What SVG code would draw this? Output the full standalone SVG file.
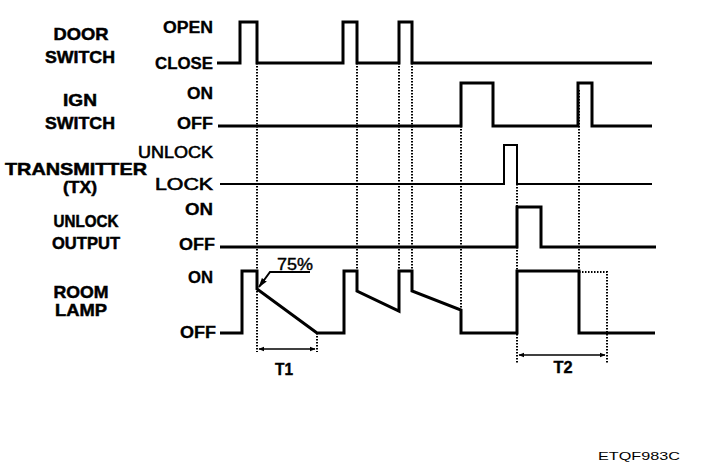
<svg xmlns="http://www.w3.org/2000/svg" width="704" height="476" viewBox="0 0 704 476">
<style>
.lbl{font-family:"Liberation Sans",Arial,sans-serif;font-weight:bold;font-size:17px;fill:#000;stroke:#000;stroke-width:0.5;text-anchor:middle}
.st{font-family:"Liberation Sans",Arial,sans-serif;font-weight:bold;font-size:16px;fill:#000;stroke:#000;stroke-width:0.3;text-anchor:end}
.tl{font-family:"Liberation Sans",Arial,sans-serif;font-weight:bold;font-size:16px;fill:#000;stroke:#000;stroke-width:0.4;text-anchor:middle}
.sig{fill:none;stroke:#000;stroke-width:3;stroke-linejoin:miter}
.dot{fill:none;stroke:#000;stroke-width:2;stroke-dasharray:1.5,1.5}
.thin{fill:none;stroke:#000;stroke-width:1.6}
</style>
<defs>
<marker id="ah" viewBox="0 0 10 10" refX="9" refY="5" markerWidth="6" markerHeight="6" orient="auto-start-reverse" markerUnits="userSpaceOnUse">
<path d="M0,1 L10,5 L0,9 z" fill="#000"/>
</marker>
<marker id="ab" viewBox="0 0 10 10" refX="9" refY="5" markerWidth="10" markerHeight="10" orient="auto-start-reverse" markerUnits="userSpaceOnUse">
<path d="M0,2 L10,5 L0,8 z" fill="#000"/>
</marker>
</defs>
<rect width="704" height="476" fill="#fff"/>

<g id="door-switch">
<text class="lbl" x="81" y="40" textLength="55" lengthAdjust="spacingAndGlyphs">DOOR</text>
<text class="lbl" x="80" y="63" textLength="70" lengthAdjust="spacingAndGlyphs">SWITCH</text>
<text class="st" x="213" y="33" textLength="50" lengthAdjust="spacingAndGlyphs">OPEN</text>
<text class="st" x="213" y="69" textLength="58" lengthAdjust="spacingAndGlyphs">CLOSE</text>
<path class="sig" d="M217,63 H240 V22 H257 V63 H343 V22 H357 V63 H399 V22 H412 V63 H652"/>
</g>

<g id="ign-switch">
<text class="lbl" x="80" y="106" textLength="34" lengthAdjust="spacingAndGlyphs">IGN</text>
<text class="lbl" x="80" y="129" textLength="70" lengthAdjust="spacingAndGlyphs">SWITCH</text>
<text class="st" x="213" y="99" textLength="26" lengthAdjust="spacingAndGlyphs">ON</text>
<text class="st" x="213" y="129" textLength="36" lengthAdjust="spacingAndGlyphs">OFF</text>
<path class="sig" d="M218,126 H461 V83 H493 V126 H578 V83 H592 V126 H652"/>
</g>

<g id="transmitter">
<text class="lbl" x="76" y="175" textLength="142" lengthAdjust="spacingAndGlyphs">TRANSMITTER</text>
<text class="lbl" x="80" y="193" textLength="34" lengthAdjust="spacingAndGlyphs">(TX)</text>
<text class="st" x="213" y="158" style="font-weight:normal;stroke-width:0.6" textLength="75" lengthAdjust="spacingAndGlyphs">UNLOCK</text>
<text class="st" x="213" y="190" style="font-weight:normal;stroke-width:0.6" textLength="58" lengthAdjust="spacingAndGlyphs">LOCK</text>
<path class="sig" style="stroke-width:2" d="M220,184 H504 V145 H517 V184 H652"/>
</g>

<g id="unlock-output">
<text class="lbl" x="86" y="227" textLength="65" lengthAdjust="spacingAndGlyphs">UNLOCK</text>
<text class="lbl" x="86" y="249" textLength="68" lengthAdjust="spacingAndGlyphs">OUTPUT</text>
<text class="st" x="213" y="215" textLength="28" lengthAdjust="spacingAndGlyphs">ON</text>
<text class="st" x="215" y="250" textLength="36" lengthAdjust="spacingAndGlyphs">OFF</text>
<path class="sig" d="M220,247 H517 V207 H541 V247 H656"/>
</g>

<g id="room-lamp">
<text class="lbl" x="81" y="298" textLength="55" lengthAdjust="spacingAndGlyphs">ROOM</text>
<text class="lbl" x="81" y="316" textLength="52" lengthAdjust="spacingAndGlyphs">LAMP</text>
<text class="st" x="213" y="283" textLength="25" lengthAdjust="spacingAndGlyphs">ON</text>
<text class="st" x="216" y="338" textLength="36" lengthAdjust="spacingAndGlyphs">OFF</text>
<path class="sig" d="M220,333 H242 V271 H257 V289 L317,333 H344 V271 H357 V291 L399,311 V271 H412 V291 L461,310 V333 H517 V271 H579 V333 H655"/>
</g>

<g id="connectors">
<path class="dot" d="M257,63 V352"/>
<path class="dot" d="M357,63 V271"/>
<path class="dot" d="M399,63 V271"/>
<path class="dot" d="M412,63 V271"/>
<path class="dot" d="M461,126 V310"/>
<path class="dot" d="M517,184 V363"/>
<path class="dot" d="M579,90 V271"/>
<path class="dot" d="M579,272 H607 V363"/>
<path class="dot" d="M317,333 V352"/>
<path class="thin" d="M259,349 H315" marker-start="url(#ah)" marker-end="url(#ah)"/>
<path class="thin" d="M519,355 H605" marker-start="url(#ah)" marker-end="url(#ah)"/>
<path class="thin" style="stroke-width:2" d="M310,272 H270 L259,287" marker-end="url(#ab)"/>
</g>

<g id="annotations">
<text class="tl" x="295" y="270" style="font-weight:normal" textLength="36" lengthAdjust="spacingAndGlyphs">75%</text>
<text class="tl" x="284" y="375" textLength="18" lengthAdjust="spacingAndGlyphs">T1</text>
<text class="tl" x="563" y="373" textLength="19" lengthAdjust="spacingAndGlyphs">T2</text>
<text x="680" y="460" style="font-family:'Liberation Sans',Arial,sans-serif;font-size:11px;text-anchor:end" textLength="82" lengthAdjust="spacingAndGlyphs">ETQF983C</text>
</g>
</svg>
